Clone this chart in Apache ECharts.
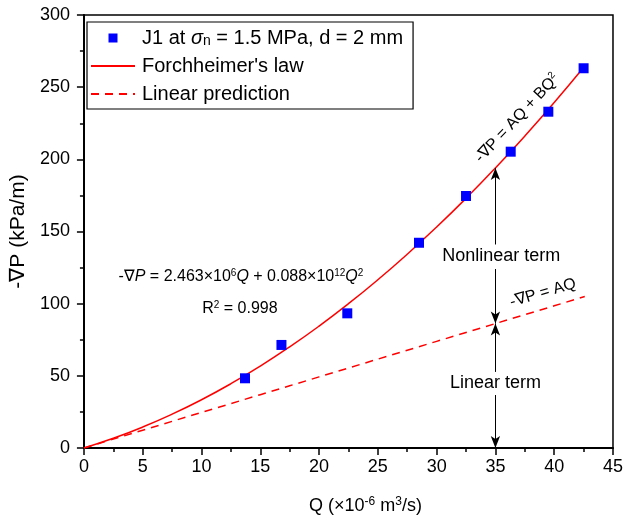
<!DOCTYPE html>
<html>
<head>
<meta charset="utf-8">
<script src="https://cdn.jsdelivr.net/npm/echarts@6/dist/echarts.min.js"></script>
<style>
  html, body { margin: 0; padding: 0; background: #fff; }
  #chart { width: 626px; height: 521px; }
</style>
</head>
<body>
<div id="chart"></div>
<script>
// Measured pressure gradient vs. flow rate (J1, sigma_n = 1.5 MPa, d = 2 mm)
const Q_OBS = [13.7, 16.8, 22.4, 28.5, 32.5, 36.3, 39.5, 42.5];      // ×10^-6 m^3/s
const DP_OBS = [48.3, 71.4, 93.3, 142.2, 174.6, 205.3, 233.0, 263.1]; // kPa/m

// Forchheimer fit: -∇P = A·Q + B·Q²  (A = 2.463×10^6, B = 0.088×10^12, Q in m^3/s)
const COEF_A = 2.463;  // kPa/m per (10^-6 m^3/s)
const COEF_B = 0.088;  // kPa/m per (10^-6 m^3/s)^2
const Q_FIT = [0, 2.5, 5, 7.5, 10, 12.5, 15, 17.5, 20, 22.5, 25, 27.5, 30, 32.5, 35, 37.5, 40, 42.6];

const X_TICKS = [0, 5, 10, 15, 20, 25, 30, 35, 40, 45];
const Y_TICKS = [0, 50, 100, 150, 200, 250, 300];

// Flow rate where the linear / nonlinear contributions are marked
const Q_MARK = 35;

const FONT = 'Liberation Sans, Arial, sans-serif';

const fitData = Q_FIT.map(q => [q, COEF_A * q + COEF_B * q * q]);
const linData = Q_FIT.map(q => [q, COEF_A * q]);
const obsData = Q_OBS.map((q, i) => [q, DP_OBS[i]]);

const linAtMark = COEF_A * Q_MARK;
const totAtMark = linAtMark + COEF_B * Q_MARK * Q_MARK;

const supStyle = { fontSize: 10, fontFamily: FONT, color: '#000', verticalAlign: 'top', lineHeight: 10 };
const baseRich = {
  t: { fontSize: 16, fontFamily: FONT, color: '#000', lineHeight: 18 },
  i: { fontSize: 16, fontFamily: FONT, color: '#000', fontStyle: 'italic', lineHeight: 18 },
  s: supStyle
};

function textItem(x, y, formatter, extra) {
  return {
    value: [x, y],
    label: Object.assign({
      show: true, position: 'inside', formatter: formatter,
      rich: baseRich, color: '#000', fontFamily: FONT, fontSize: 16
    }, extra || {})
  };
}

const termRich = { n: { fontSize: 18, fontFamily: FONT, color: '#000' } };

const annotations = [
  textItem(13.35, 118.5, '{t|-∇}{i|P}{t| = 2.463×10}{s|6}{i|Q}{t| + 0.088×10}{s|12}{i|Q}{s|2}'),
  textItem(13.27, 96.3, '{t|R}{s|2}{t| = 0.998}'),
  textItem(36.85, 228.5, '{t|-∇P = AQ + BQ}{s|2}', { rotate: 47 }),
  textItem(39.04, 107.4, '{t|-∇P = AQ}', { rotate: 16.6 }),
  textItem(35.5, 133.3, '{n|Nonlinear term}', { rich: termRich }),
  textItem(35, 45, '{n|Linear term}', { rich: termRich })
];

// line entries in the legend: plain stroke, no marker
const noMarker = { opacity: 0, color: 'rgba(0,0,0,0)', borderColor: 'rgba(0,0,0,0)' };

const chart = echarts.init(document.getElementById('chart'), null, { renderer: 'canvas' });

chart.setOption({
  backgroundColor: '#fff',
  animation: false,
  grid: {
    left: 80, right: 10, top: 15, bottom: 73,
    show: true, borderColor: '#000', borderWidth: 1.5, backgroundColor: 'transparent'
  },
  legend: {
    orient: 'vertical',
    left: 87, top: 22,
    padding: [6, 10, 5, 3],
    itemGap: 8,
    itemWidth: 44,
    itemHeight: 9,
    borderColor: '#000', borderWidth: 1.2,
    backgroundColor: '#fff',
    textStyle: {
      fontFamily: FONT, fontSize: 20, color: '#000', lineHeight: 20,
      padding: [0, 0, 0, 2],
      rich: {
        t: { fontSize: 20, fontFamily: FONT, color: '#000' },
        g: { fontSize: 20, fontFamily: FONT, color: '#000', fontStyle: 'italic' },
        b: { fontSize: 14, fontFamily: FONT, color: '#000', verticalAlign: 'bottom', lineHeight: 14 }
      }
    },
    formatter: function (name) {
      if (name === 'obs') return '{t|J1 at }{g|σ}{b|n}{t| = 1.5 MPa, d = 2 mm}';
      return name;
    },
    data: [
      { name: 'obs', icon: 'path://M0,0L10,0L10,10L0,10Z', itemStyle: { color: '#0000ff', opacity: 1 } },
      { name: "Forchheimer's law", itemStyle: noMarker },
      { name: 'Linear prediction', itemStyle: noMarker }
    ]
  },
  xAxis: {
    type: 'value', min: 0, max: 45, interval: 5,
    name: '{t|Q (×10}{s|-6}{t| m}{s|3}{t|/s)}',
    nameLocation: 'middle', nameGap: 48,
    nameTextStyle: {
      padding: [0, 0, 0, 34],
      rich: {
        t: { fontSize: 18, fontFamily: FONT, color: '#000', lineHeight: 20 },
        s: { fontSize: 12, fontFamily: FONT, color: '#000', verticalAlign: 'top', lineHeight: 12 }
      }
    },
    axisLine: { show: true, lineStyle: { color: '#000', width: 2 } },
    axisTick: { show: true, inside: false, length: 7, lineStyle: { color: '#000', width: 1.5 } },
    minorTick: { show: true, splitNumber: 2, length: 4, lineStyle: { color: '#000', width: 1.5 } },
    axisLabel: {
      margin: 10, fontFamily: FONT, fontSize: 18, color: '#000',
      formatter: v => (X_TICKS.indexOf(v) >= 0 ? String(v) : '')
    },
    splitLine: { show: false }
  },
  yAxis: {
    type: 'value', min: 0, max: 300, interval: 50,
    name: '-∇P (kPa/m)',
    nameLocation: 'middle', nameGap: 48,
    nameTextStyle: { fontFamily: FONT, fontSize: 21, color: '#000' },
    axisLine: { show: true, lineStyle: { color: '#000', width: 2 } },
    axisTick: { show: true, inside: false, length: 7, lineStyle: { color: '#000', width: 1.5 } },
    minorTick: { show: true, splitNumber: 2, length: 4, lineStyle: { color: '#000', width: 1.5 } },
    axisLabel: {
      margin: 14, fontFamily: FONT, fontSize: 18, color: '#000',
      formatter: v => (Y_TICKS.indexOf(v) >= 0 ? String(v) : '')
    },
    splitLine: { show: false }
  },
  series: [
    {
      name: 'Linear prediction',
      type: 'line',
      data: linData,
      showSymbol: false, symbol: 'none',
      lineStyle: { color: '#ff0000', width: 1.5, type: [8, 6] },
      itemStyle: { color: '#ff0000' },
      z: 2
    },
    {
      name: "Forchheimer's law",
      type: 'line',
      data: fitData,
      smooth: true,
      showSymbol: false, symbol: 'none',
      lineStyle: { color: '#ff0000', width: 1.5 },
      itemStyle: { color: '#ff0000' },
      z: 3
    },
    {
      name: 'obs',
      type: 'scatter',
      data: obsData,
      symbol: 'rect',
      symbolSize: 10,
      itemStyle: { color: '#0000ff', opacity: 1 },
      z: 5
    },
    {
      name: 'notes',
      type: 'scatter',
      data: annotations,
      symbolSize: 0,
      itemStyle: { opacity: 1 },
      silent: true,
      z: 6,
      markLine: {
        silent: true,
        symbol: ['none', 'arrow'],
        symbolSize: [7, 12],
        label: { show: false },
        lineStyle: { color: '#000', width: 1, type: 'solid', opacity: 1 },
        itemStyle: { color: '#000', opacity: 1 },
        data: [
          [{ coord: [Q_MARK, 141] }, { coord: [Q_MARK, totAtMark] }],
          [{ coord: [Q_MARK, 124] }, { coord: [Q_MARK, linAtMark] }],
          [{ coord: [Q_MARK, 52.7] }, { coord: [Q_MARK, linAtMark] }],
          [{ coord: [Q_MARK, 36.7] }, { coord: [Q_MARK, 0] }]
        ]
      }
    }
  ]
});
</script>
</body>
</html>
